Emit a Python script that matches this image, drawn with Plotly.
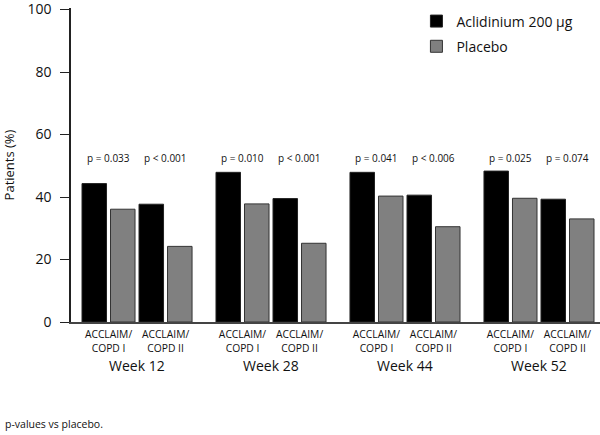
import plotly.graph_objects as go

weeks = ["Week 12", "Week 28", "Week 44", "Week 52"]
studies = ["ACCLAIM/<br>COPD I", "ACCLAIM/<br>COPD II"]
aclidinium = [44.3, 37.7, 47.9, 39.5, 47.9, 40.6, 48.3, 39.3]
placebo = [36.1, 24.2, 37.8, 25.2, 40.3, 30.5, 39.6, 33.0]
pvalues = ["p = 0.033", "p < 0.001", "p = 0.010", "p < 0.001",
           "p = 0.041", "p < 0.006", "p = 0.025", "p = 0.074"]

WEEK_STEP = 2.35
x_pos = []
tick_text = []
for w in range(len(weeks)):
    for s in range(len(studies)):
        x_pos.append(w * WEEK_STEP + s)
        tick_text.append(studies[s])

FONT = "Open Sans"
fig = go.Figure()
fig.add_trace(go.Bar(x=x_pos, y=aclidinium, name="Aclidinium 200 µg",
                     marker=dict(color="#000000", line=dict(color="#222222", width=1)),
                     legendgroup="a"))
fig.add_trace(go.Bar(x=x_pos, y=placebo, name="Placebo",
                     marker=dict(color="#808080", line=dict(color="#333333", width=1)),
                     legendgroup="b"))

annotations = []
for xp, pv in zip(x_pos, pvalues):
    annotations.append(dict(x=xp, y=52.5, xref="x", yref="y", text=pv, showarrow=False,
                            font=dict(family=FONT, size=10, color="#111"),
                            xanchor="center", yanchor="middle"))
for w, name in enumerate(weeks):
    annotations.append(dict(x=w * WEEK_STEP + 0.5, y=-0.137, xref="x", yref="paper",
                            text=name, showarrow=False,
                            font=dict(family=FONT, size=14, color="#111"),
                            xanchor="center", yanchor="middle"))
annotations.append(dict(x=-0.1285, y=-0.325, xref="paper", yref="paper",
                        text="p-values vs placebo.", showarrow=False,
                        font=dict(family=FONT, size=10.5, color="#111"),
                        xanchor="left", yanchor="middle"))

fig.update_layout(
    width=600, height=435,
    margin=dict(l=71, r=0, t=8, b=113),
    plot_bgcolor="white", paper_bgcolor="white",
    barmode="group", bargap=0.0, bargroupgap=0.14,
    font=dict(family=FONT, color="#111"),
    showlegend=True,
    legend=dict(x=0.653, y=1.008, xanchor="left", yanchor="top",
                font=dict(family=FONT, size=14, color="#111"),
                traceorder="grouped", tracegroupgap=4,
                bgcolor="rgba(0,0,0,0)"),
    annotations=annotations,
    xaxis=dict(range=[-0.658, 8.62], tickvals=x_pos, ticktext=tick_text,
               showgrid=False, zeroline=False, showline=True,
               linecolor="#444", linewidth=1.5, ticks="",
               ticklabelstandoff=2,
               tickfont=dict(family=FONT, size=10.3, color="#111")),
    yaxis=dict(range=[0, 100.5], tickvals=[0, 20, 40, 60, 80, 100],
               showgrid=False, zeroline=False, showline=True,
               linecolor="#222", linewidth=1.5, ticks="outside",
               ticklen=9, tickwidth=1.2, tickcolor="#222",
               ticklabeloverflow="allow", ticklabelstandoff=6,
               tickfont=dict(family=FONT, size=14, color="#111"),
               title=dict(text="Patients (%)", standoff=12,
                          font=dict(family=FONT, size=13, color="#111"))),
)

fig.write_html("out.html", config={"displayModeBar": False},
               post_script="document.body.style.margin='0px';document.body.style.overflow='hidden';")
